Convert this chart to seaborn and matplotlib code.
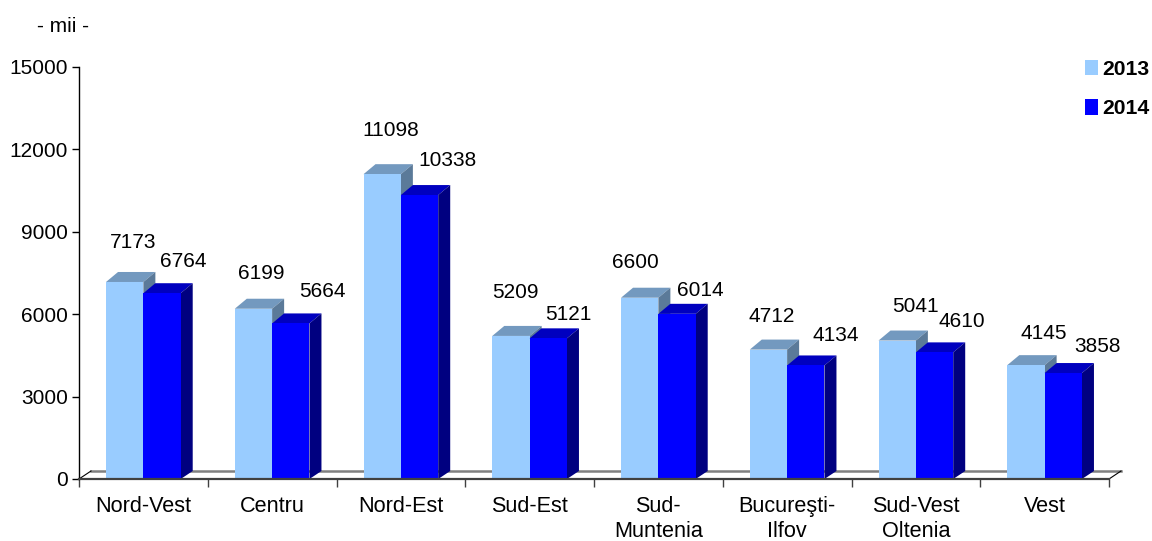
from matplotlib import pyplot as plt
from matplotlib.patches import Polygon
import pandas as pd
import seaborn as sns

regions = ["Nord-Vest", "Centru", "Nord-Est", "Sud-Est", "Sud-\nMuntenia",
           "Bucureşti-\nIlfov", "Sud-Vest\nOltenia", "Vest"]
values_2013 = [7173, 6199, 11098, 5209, 6600, 4712, 5041, 4145]
values_2014 = [6764, 5664, 10338, 5121, 6014, 4134, 4610, 3858]
y_ticks = [0, 3000, 6000, 9000, 12000, 15000]

# hand placed labels in the original, offsets from bar top centre in pixels
label_dx_2013 = [8, 8, 9, 4, -4, 3, 18, 18]
label_dy_2013 = [39, 35, 44, 43, 35, 33, 34, 32]
label_dx_2014 = [21, 32, 28, 20, 23, 30, 27, 34]
label_dy_2014 = [32, 32, 35, 24, 23, 30, 31, 27]

LIGHT, DARK = "#99CCFF", "#0000FF"
shades = {LIGHT: ("#7399BF", "#5B7A99"), DARK: ("#0000BF", "#000080")}

plt.rcParams["font.family"] = ["Liberation Sans", "DejaVu Sans"]

df = pd.DataFrame({
    "region": regions * 2,
    "year": ["2013"] * len(regions) + ["2014"] * len(regions),
    "value": values_2013 + values_2014,
})

fig = plt.figure(figsize=(11.52, 5.41), dpi=100)
ax = fig.add_axes([79 / 1152, 1 - 479 / 541, 1030 / 1152, 412 / 541])

sns.barplot(data=df, x="region", y="value", hue="year", palette=[LIGHT, DARK],
            width=0.58, gap=0, saturation=1, linewidth=0, ax=ax, zorder=3)
ax.set_xlim(-0.5, 7.5)
ax.set_ylim(0, 15000)

# size of the fake 3d depth, in data units
dx = 12 / 1030 * 8
dy = 10 / 412 * 15000
floor_dy = 8 / 412 * 15000

# floor of the 3d box
ax.plot([-0.5 + dx, 7.5 + dx], [floor_dy, floor_dy], color="#808080",
        lw=1.8, clip_on=False, zorder=1)
ax.plot([-0.5, -0.5 + dx], [0, floor_dy], color="black", lw=0.8, clip_on=False, zorder=1)
ax.plot([7.5 + dx, 7.5], [floor_dy, 0], color="black", lw=0.8, clip_on=False, zorder=1)

n = len(regions)
bars = [p for p in ax.patches if p.get_height() > 0][:2 * n]
tops = values_2013 + values_2014
dxs = label_dx_2013 + label_dx_2014
dys = label_dy_2013 + label_dy_2014

for i, bar in enumerate(bars):
    x0, w, h = bar.get_x(), bar.get_width(), bar.get_height()
    top_c, side_c = shades[LIGHT if i < n else DARK]
    z = 2 if i < n else 3
    bar.set_zorder(z + 0.5)
    ax.add_patch(Polygon([(x0, h), (x0 + dx, h + dy), (x0 + w + dx, h + dy), (x0 + w, h)],
                         fc=top_c, ec="none", zorder=z, clip_on=False))
    ax.add_patch(Polygon([(x0 + w, 0), (x0 + w + dx, floor_dy), (x0 + w + dx, h + dy), (x0 + w, h)],
                         fc=side_c, ec="none", zorder=z, clip_on=False))
    ax.annotate(str(tops[i]), (x0 + w / 2, h),
                xytext=(dxs[i] * 0.72, dys[i] * 0.72), textcoords="offset points",
                ha="center", va="center", fontsize=15, color="black", zorder=6)

sns.despine(ax=ax)
ax.spines["left"].set_linewidth(1)
ax.spines["bottom"].set_linewidth(1.6)
ax.spines["bottom"].set_color("#404040")
ax.spines["bottom"].set_zorder(5)

ax.set_yticks(y_ticks)
ax.set_xticks([i - 0.5 for i in range(n + 1)], minor=True)
ax.set_xticks(range(n), labels=regions)
ax.tick_params(axis="x", which="major", length=0, labelsize=15.6, pad=12.5)
ax.tick_params(axis="x", which="minor", length=6, width=1, color="#404040")
ax.tick_params(axis="y", length=5, width=1, labelsize=15, pad=3)
ax.set_xlabel("")
ax.set_ylabel("")

fig.text(37 / 1152, 1 - 26 / 541, "- mii -", fontsize=15, va="center")

handles, labels = ax.get_legend_handles_labels()
ax.legend(handles, labels, loc="upper left", bbox_to_anchor=(1085 / 1152, 1 - 60 / 541),
          bbox_transform=fig.transFigure, frameon=False, ncols=1,
          prop={"weight": "bold", "size": 15.2}, handlelength=0.62, handleheight=0.75,
          handletextpad=0.2, labelspacing=0.95, borderpad=0, borderaxespad=0)

fig.savefig("out.png", dpi=100)
